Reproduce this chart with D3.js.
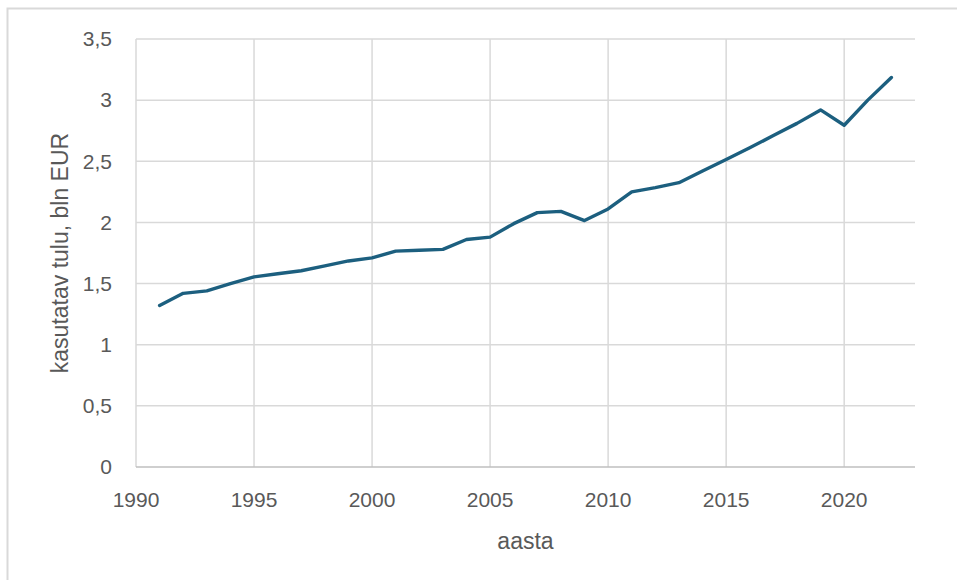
<!DOCTYPE html>
<html>
<head>
<meta charset="utf-8">
<script src="https://cdn.jsdelivr.net/npm/d3@7"></script>
<style>
  html, body { margin: 0; padding: 0; background: #fff; }
  svg { display: block; }
</style>
</head>
<body>
<svg id="chart" width="957" height="580"></svg>
<script>
// ---------- data ----------
const years = [1991, 1992, 1993, 1994, 1995, 1996, 1997, 1998, 1999, 2000,
  2001, 2002, 2003, 2004, 2005, 2006, 2007, 2008, 2009, 2010,
  2011, 2012, 2013, 2014, 2015, 2016, 2017, 2018, 2019, 2020, 2021, 2022];
const income = [1.32, 1.42, 1.44, 1.50, 1.555, 1.58, 1.605, 1.645, 1.685, 1.71,
  1.765, 1.772, 1.78, 1.86, 1.88, 1.99, 2.08, 2.09, 2.015, 2.11,
  2.25, 2.285, 2.325, 2.42, 2.515, 2.61, 2.71, 2.81, 2.92, 2.795, 3.0, 3.185];
const xTicks = [1990, 1995, 2000, 2005, 2010, 2015, 2020];
const yTicks = [0, 0.5, 1, 1.5, 2, 2.5, 3, 3.5];
const xTitle = "aasta";
const yTitle = "kasutatav tulu, bln EUR";

// ---------- layout ----------
const svg = d3.select("#chart");
const W = 957, H = 580;
const margin = { top: 39, right: 42, bottom: 113, left: 136 };
const w = W - margin.left - margin.right;
const h = H - margin.top - margin.bottom;
const font = "'Liberation Sans', Arial, sans-serif";
const textColor = "#595959";
const gridColor = "#d9d9d9";

// chart frame (top and left edges only are visible)
svg.append("path")
  .attr("d", `M7.5,${H} V8.5 H${W}`)
  .attr("fill", "none").attr("stroke", gridColor).attr("stroke-width", 2);

const g = svg.append("g").attr("transform", `translate(${margin.left},${margin.top})`);

const x = d3.scaleLinear().domain([1990, 2023]).range([0, w]);
const y = d3.scaleLinear().domain([0, 3.5]).range([h, 0]);

const loc = d3.formatLocale({ decimal: ",", thousands: " ", grouping: [3], currency: ["", "€"] });
const fmtY = (v) => loc.format("~g")(v);

// horizontal grid
g.append("g").selectAll("line")
  .data(yTicks.filter(d => d > 0))
  .join("line")
  .attr("x1", 0).attr("x2", w)
  .attr("y1", d => y(d)).attr("y2", d => y(d))
  .attr("stroke", gridColor).attr("stroke-width", 1.5);

// vertical grid
g.append("g").selectAll("line")
  .data(xTicks)
  .join("line")
  .attr("x1", d => x(d)).attr("x2", d => x(d))
  .attr("y1", 0).attr("y2", h)
  .attr("stroke", gridColor).attr("stroke-width", 1.5);

// baseline
g.append("line")
  .attr("x1", 0).attr("x2", w)
  .attr("y1", y(0)).attr("y2", y(0))
  .attr("stroke", "#bfbfbf").attr("stroke-width", 1.5);

// y tick labels
g.append("g").selectAll("text")
  .data(yTicks)
  .join("text")
  .attr("x", -24).attr("y", d => y(d))
  .attr("dy", "0.35em")
  .attr("text-anchor", "end")
  .attr("font-family", font).attr("font-size", 21)
  .attr("fill", textColor)
  .text(fmtY);

// x tick labels
g.append("g").selectAll("text")
  .data(xTicks)
  .join("text")
  .attr("x", d => x(d)).attr("y", h + 40)
  .attr("text-anchor", "middle")
  .attr("font-family", font).attr("font-size", 21)
  .attr("fill", textColor)
  .text(d => d);

// axis titles
g.append("text")
  .attr("x", w / 2).attr("y", h + 82)
  .attr("text-anchor", "middle")
  .attr("font-family", font).attr("font-size", 23)
  .attr("fill", textColor)
  .text(xTitle);

g.append("text")
  .attr("transform", `translate(${-68},${h / 2}) rotate(-90)`)
  .attr("text-anchor", "middle")
  .attr("font-family", font).attr("font-size", 23)
  .attr("fill", textColor)
  .text(yTitle);

// line
const line = d3.line()
  .x((d, i) => x(years[i]))
  .y(d => y(d));

g.append("path")
  .datum(income)
  .attr("d", line)
  .attr("fill", "none")
  .attr("stroke", "#1c5f7f")
  .attr("stroke-width", 3.4)
  .attr("stroke-linejoin", "round")
  .attr("stroke-linecap", "round");
</script>
</body>
</html>
